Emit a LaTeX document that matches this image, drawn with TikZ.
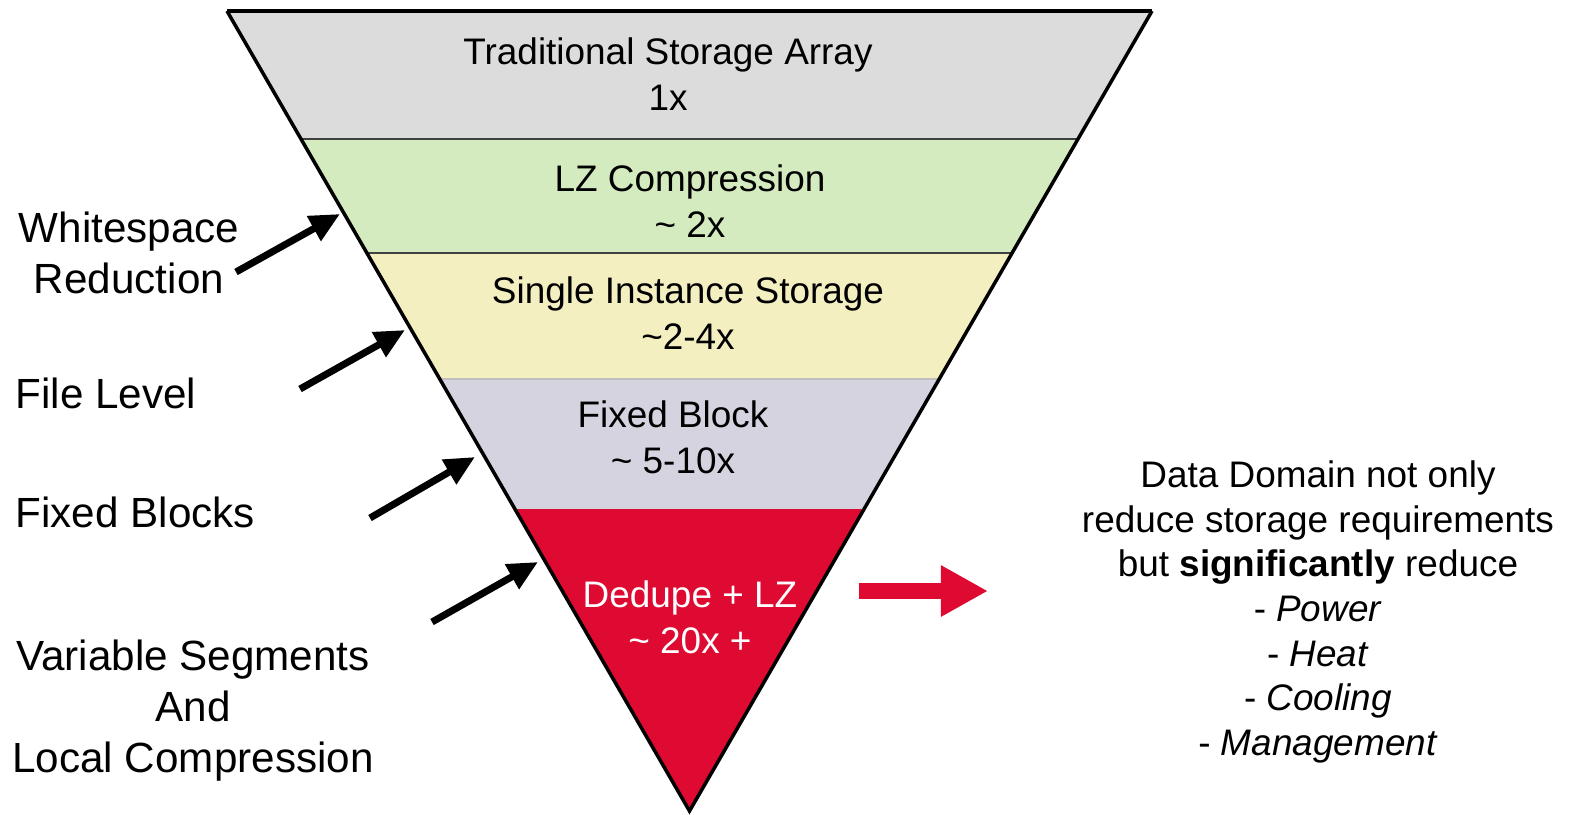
\documentclass[tikz,border=0pt]{standalone}
\usepackage{fontspec}
\setmainfont{Liberation Sans}
\usetikzlibrary{calc,arrows.meta,positioning}

\definecolor{bandgray}{RGB}{220,220,220}
\definecolor{bandgreen}{RGB}{212,235,192}
\definecolor{bandyellow}{RGB}{243,239,193}
\definecolor{bandlilac}{RGB}{213,211,224}
\definecolor{ddred}{RGB}{222,10,50}

\begin{document}
\begin{tikzpicture}[x=0.01cm,y=-0.01cm,
band/.style = {align=center, font=\fontsize{10.5}{13.1}\selectfont},
side/.style = {align=center, inner sep=0pt, font=\fontsize{12}{14.5}\selectfont},
note/.style = {align=center, font=\fontsize{10.5}{12.7}\selectfont},
line/.style = {draw, line width=0.07cm, -{Triangle[length=0.3cm,width=0.27cm]}},
bigarrow/.style = {draw=ddred, line width=0.16cm, -{Triangle[length=0.47cm,width=0.48cm]}},
sep/.style = {line width=0.015cm}]

\useasboundingbox (0,0) rectangle (1575,814);

% funnel corners
\coordinate (tl) at (227,11);
\coordinate (tr) at (1152,11);
\coordinate (apex) at (689.5,811);

% bands
\fill[bandgray] (tl) -- (tr) -- ($(tr)!0.16!(apex)$) -- ($(tl)!0.16!(apex)$) -- cycle;
\fill[bandgreen] ($(tl)!0.16!(apex)$) -- ($(tr)!0.16!(apex)$) -- ($(tr)!0.3025!(apex)$) -- ($(tl)!0.3025!(apex)$) -- cycle;
\fill[bandyellow] ($(tl)!0.3025!(apex)$) -- ($(tr)!0.3025!(apex)$) -- ($(tr)!0.46!(apex)$) -- ($(tl)!0.46!(apex)$) -- cycle;
\fill[bandlilac] ($(tl)!0.46!(apex)$) -- ($(tr)!0.46!(apex)$) -- ($(tr)!0.6225!(apex)$) -- ($(tl)!0.6225!(apex)$) -- cycle;
\fill[ddred] ($(tl)!0.6225!(apex)$) -- ($(tr)!0.6225!(apex)$) -- (apex) -- cycle;

\draw[sep, black!75] ($(tl)!0.16!(apex)$) -- ($(tr)!0.16!(apex)$);
\draw[sep, black!75] ($(tl)!0.3025!(apex)$) -- ($(tr)!0.3025!(apex)$);
\draw[sep, black!25] ($(tl)!0.46!(apex)$) -- ($(tr)!0.46!(apex)$);
\draw[line width=0.035cm] (tl) -- (apex) -- (tr);
\draw[line width=0.04cm] (tl) -- (tr);

\node[band] (trad) at (668,74) {Traditional Storage Array\\1x};
\node[band] (lz) at (690,201) {LZ Compression\\\textasciitilde{} 2x};
\node[band] (sis) at (688,313) {Single Instance Storage\\\textasciitilde2-4x};
\node[band] (fixed) at (673,437) {Fixed Block\\\textasciitilde{} 5-10x};
\node[band, text=white] (dedupe) at (690,617) {Dedupe + LZ\\\textasciitilde{} 20x +};

% left labels
\node[side] (ws) at (129,253) {Whitespace\\Reduction};
\node[side, anchor=west] (file) at (15,393) {File Level};
\node[side, anchor=west] (blocks) at (15,512) {Fixed Blocks};
\node[side] (var) at (193,711) {Variable Segments\\And\\Local Compression};

\node[note] (domain) at (1318,612) {Data Domain not only\\reduce storage requirements\\but \textbf{significantly} reduce\\- \textit{Power}\\- \textit{Heat}\\- \textit{Cooling}\\- \textit{Management}};

\coordinate (ws tail) at (236,272);
\coordinate (ws tip) at (340,214);
\coordinate (file tail) at (300,389);
\coordinate (file tip) at (405,330);
\coordinate (blocks tail) at (370,518);
\coordinate (blocks tip) at (475,457);
\coordinate (var tail) at (432,622);
\coordinate (var tip) at (538,562);
\coordinate (red tail) at (859,591);
\coordinate (red tip) at (988,591);

\path[line] (ws tail) -- (ws tip);
\path[line] (file tail) -- (file tip);
\path[line] (blocks tail) -- (blocks tip);
\path[line] (var tail) -- (var tip);
\path[bigarrow] (red tail) -- (red tip);

\end{tikzpicture}
\end{document}
